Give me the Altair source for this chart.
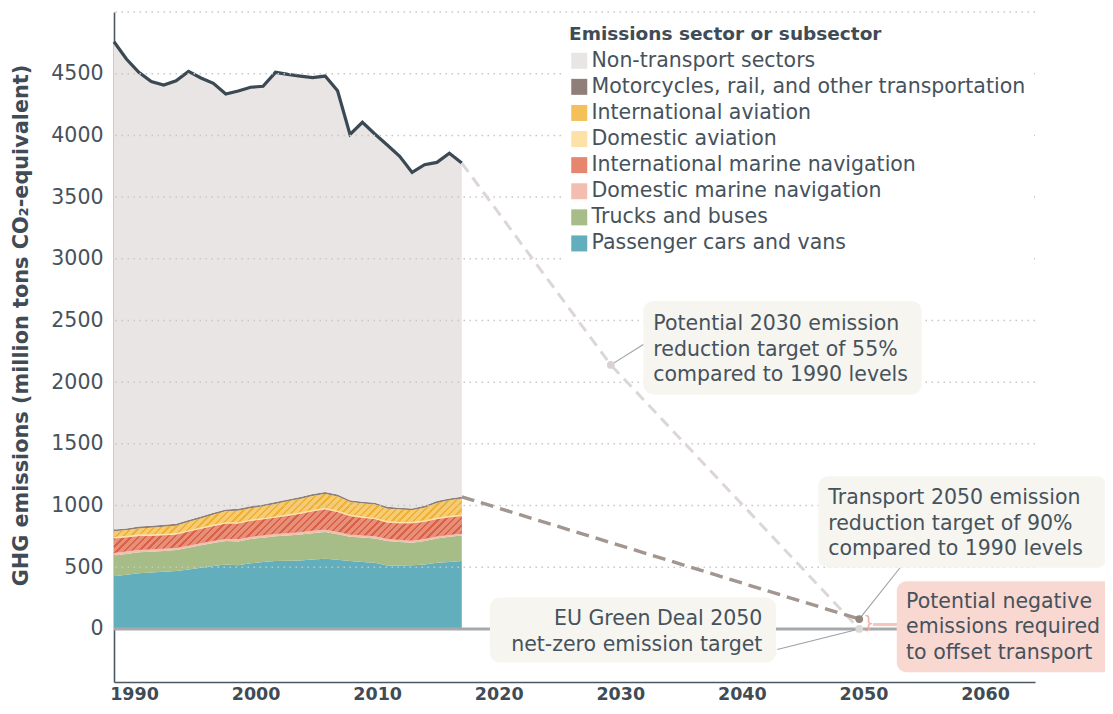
import altair as alt
import pandas as pd

# ---------------- data ----------------
years = list(range(1990, 2019))

total_ghg = [4759, 4619, 4511, 4436, 4408, 4443, 4519, 4465, 4422, 4335,
             4360, 4390, 4398, 4511, 4494, 4481, 4468, 4481, 4362, 4008,
             4106, 4011, 3922, 3830, 3700, 3762, 3781, 3855, 3776]

passenger_cars = [428, 440, 452, 458, 463, 469, 482, 496, 510, 523,
                  517, 533, 542, 550, 552, 555, 562, 569, 560, 550,
                  543, 536, 515, 515, 517, 523, 536, 543, 550]
trucks_buses = [168, 168, 170, 168, 168, 170, 176, 182, 186, 189,
                192, 196, 198, 202, 206, 210, 214, 216, 208, 197,
                198, 198, 197, 190, 182, 190, 198, 204, 208]
domestic_marine = [21, 21, 20, 20, 20, 19, 19, 19, 19, 19,
                   19, 19, 19, 19, 20, 20, 21, 21, 20, 19,
                   19, 19, 19, 18, 18, 17, 17, 16, 16]
international_marine = [114, 112, 110, 108, 107, 106, 110, 114, 118, 121,
                        124, 126, 128, 130, 138, 146, 154, 162, 158, 148,
                        140, 135, 129, 132, 138, 136, 138, 140, 140]
domestic_aviation = [16, 15, 15, 14, 14, 13, 13, 13, 13, 13,
                     13, 13, 13, 13, 14, 14, 14, 14, 14, 14,
                     14, 14, 14, 13, 13, 14, 14, 14, 14]
international_aviation = [44, 44, 48, 52, 56, 60, 66, 72, 80, 88,
                          93, 92, 93, 99, 104, 108, 112, 112, 114, 101,
                          102, 106, 101, 100, 94, 103, 118, 126, 128]
motorcycles_rail_other = [15, 15, 16, 16, 16, 16, 16, 16, 16, 16,
                          16, 16, 16, 16, 16, 16, 16, 16, 16, 15,
                          15, 15, 15, 15, 15, 15, 15, 15, 15]

sectors = ["Non-transport sectors",
           "Motorcycles, rail, and other transportation",
           "International aviation",
           "Domestic aviation",
           "International marine navigation",
           "Domestic marine navigation",
           "Trucks and buses",
           "Passenger cars and vans"]
legend_colors = ["#e8e5e4", "#8e7f78", "#f3c05a", "#fce2a6",
                 "#e6866e", "#f3bdb0", "#a6bd87", "#63aebd"]

# targets
target_2030_value = 2140      # 55 % below 1990
transport_2050_value = 80     # 90 % below 1990 transport
netzero_2050_value = 0

x_ticks = [1990, 2000, 2010, 2020, 2030, 2040, 2050, 2060]
y_ticks = [0, 500, 1000, 1500, 2000, 2500, 3000, 3500, 4000, 4500, 5000]

# ---------------- tables ----------------
transport_series = [passenger_cars, trucks_buses, domestic_marine,
                    international_marine, domestic_aviation,
                    international_aviation, motorcycles_rail_other]
transport_names = sectors[::-1][:7]
rows = []
for i, yr in enumerate(years):
    tsum = 0
    for k, (nm, s) in enumerate(zip(transport_names, transport_series)):
        rows.append({"year": yr, "sector": nm, "value": s[i], "order": k})
        tsum += s[i]
    rows.append({"year": yr, "sector": sectors[0],
                 "value": total_ghg[i] - tsum, "order": 7})
df = pd.DataFrame(rows)
total_df = pd.DataFrame({"year": years, "total": total_ghg})
transport_total_2018 = sum(s[-1] for s in transport_series)

proj_total = pd.DataFrame({"year": [2018, 2030, 2050],
                           "v": [total_ghg[-1], target_2030_value, netzero_2050_value]})
proj_transport = pd.DataFrame({"year": [2018, 2050],
                               "v": [transport_total_2018, transport_2050_value]})
dots = pd.DataFrame({"year": [2030, 2050, 2050],
                     "v": [target_2030_value, transport_2050_value, netzero_2050_value],
                     "c": ["#d8d3d0", "#958680", "#dcd8d6"]})
leaders = pd.DataFrame({"x": [2030, 2050, 2050],
                        "y": [target_2030_value, transport_2050_value, netzero_2050_value],
                        "x2": [2032.75, 2053.3, 2043.4],
                        "y2": [2314, 498, -166]})
boxes = pd.DataFrame({"x1": [2032.62, 2046.71, 2020.27, 2053.02],
                      "x2": [2055.03, 2069.93, 2043.3, 2072.0],
                      "y1": [2657, 1238, 255, 387],
                      "y2": [1901, 496, -272, -350],
                      "c": ["#f6f5f0", "#f6f5f0", "#f6f5f0", "#f8d8d1"]})
# y = position of the first text line
texts_left = pd.DataFrame({
    "x": [2033.42, 2047.5, 2053.77],
    "y": [2469, 1058, 220],
    "t": ["Potential 2030 emission\nreduction target of 55%\ncompared to 1990 levels",
          "Transport 2050 emission\nreduction target of 90%\ncompared to 1990 levels",
          "Potential negative\nemissions required\nto offset transport"]})
texts_right = pd.DataFrame({"x": [2042.2], "y": [80],
                            "t": ["EU Green Deal 2050\nnet-zero emission target"]})
bracket = pd.DataFrame({"x": [2050.75], "y": [40], "t": ["}"]})
pink_link = pd.DataFrame({"x": [2051.1], "x2": [2053.1], "y": [36]})
grid_df = pd.DataFrame({"v": y_ticks[1:]})
zero_df = pd.DataFrame({"v": [0]})
label_df = pd.DataFrame({"year": x_ticks})

# ---------------- geometry / style ----------------
W, H = 921, 670
X_DOM = [1990, 2064.15]
Y_DOM = [-430, 5000]
TXT = "#46525c"
AX = "#4b5862"
FONT = "DejaVu Sans"
FS = 20.5
px_year = W / (X_DOM[1] - X_DOM[0])
px_unit = H / (Y_DOM[1] - Y_DOM[0])

xs = alt.Scale(domain=X_DOM, nice=False, zero=False)
ys = alt.Scale(domain=Y_DOM, nice=False, zero=False)

base = alt.Chart(df).transform_stack(
    stack="value", groupby=["year"], as_=["y0", "y1"],
    sort=[alt.SortField("order", order="ascending")])

X = alt.X("year:Q", scale=xs,
          axis=alt.Axis(labels=False, ticks=False, grid=False, title=None,
                        domainColor=AX, domainWidth=1.6))
Y = alt.Y("y1:Q", scale=ys,
          axis=alt.Axis(values=y_ticks, format="d",
                        labelExpr="datum.value == 5000 ? '' : datum.label",
                        grid=False, ticks=False, domainColor=AX, domainWidth=1.6,
                        labelPadding=11, labelFontSize=FS, labelColor=TXT,
                        title="GHG emissions (million tons CO\u2082-equivalent)",
                        titleFontSize=20.8, titleFontWeight="bold", titleColor="#3f4b55",
                        titleX=-93, titleY=313, titleBaseline="middle",
                        titleAlign="center", titleAngle=270))

areas = base.mark_area(opacity=1).encode(
    x=X, y=Y, y2="y0:Q",
    color=alt.Color("sector:N",
                    scale=alt.Scale(domain=sectors, range=legend_colors),
                    legend=alt.Legend(orient="none", legendX=447, legendY=5,
                                      title="Emissions sector or subsector",
                                      titleFontSize=18.5, titleFontWeight="bold",
                                      titleColor="#3f4b55", titlePadding=7,
                                      titleLimit=0,
                                      labelFontSize=FS, labelColor=TXT,
                                      labelLimit=0, labelOffset=2,
                                      symbolType="square", symbolSize=256,
                                      symbolStrokeWidth=0, symbolOpacity=1,
                                      rowPadding=5.1, padding=8,
                                      fillColor="white")))


def cum(upto):
    return [sum(s[i] for s in transport_series[:upto]) for i in range(len(years))]


def hatch(name, idx, light, dark, period=7.3, frac=0.33):
    bottom, top = cum(idx), cum(idx + 1)
    bw = (years[-1] - years[0]) * px_year
    bh = (max(top) - min(bottom)) * px_unit
    r = bh / bw
    k = (bw + bh) / (bw * (1 + r * r))
    n = max(1, int(round((bw + bh) / period)))
    stops = []
    for i in range(n):
        a, b, c = i / n, (i + frac) / n, (i + 1) / n
        stops += [alt.GradientStop(color=dark, offset=a),
                  alt.GradientStop(color=dark, offset=b),
                  alt.GradientStop(color=light, offset=b),
                  alt.GradientStop(color=light, offset=c)]
    grad = alt.LinearGradient(gradient="linear", stops=stops,
                              x1=0, y1=0, x2=k, y2=k * r)
    return base.transform_filter(alt.datum.sector == name).mark_area(
        color=grad, opacity=1).encode(
        x=alt.X("year:Q", scale=xs), y=alt.Y("y1:Q", scale=ys), y2="y0:Q")


hatch_ia = hatch("International aviation", 5, "#f6cb72", "#efb133")
hatch_im = hatch("International marine navigation", 3, "#e88f78", "#d9614a")

line = alt.Chart(total_df).mark_line(color="#3a4953", strokeWidth=3.2).encode(
    x=alt.X("year:Q", scale=xs), y=alt.Y("total:Q", scale=ys))

grid = alt.Chart(grid_df).mark_rule(color="#c6c6c6", strokeDash=[1.5, 4.5],
                                    strokeWidth=1.5).encode(
    y=alt.Y("v:Q", scale=ys))
zero = alt.Chart(zero_df).mark_rule(color="#a6a9ac", strokeWidth=3).encode(
    y=alt.Y("v:Q", scale=ys))

dash_total = alt.Chart(proj_total).mark_line(
    color="#dcd7d5", strokeWidth=3, strokeDash=[11, 7]).encode(
    x=alt.X("year:Q", scale=xs), y=alt.Y("v:Q", scale=ys))
dash_transport = alt.Chart(proj_transport).mark_line(
    color="#a3958f", strokeWidth=3.4, strokeDash=[13, 7]).encode(
    x=alt.X("year:Q", scale=xs), y=alt.Y("v:Q", scale=ys))

leader = alt.Chart(leaders).mark_rule(color="#9aa1a7", strokeWidth=1.1).encode(
    x=alt.X("x:Q", scale=xs), x2="x2:Q", y=alt.Y("y:Q", scale=ys), y2="y2:Q")
dot = alt.Chart(dots).mark_circle(size=60, opacity=1).encode(
    x=alt.X("year:Q", scale=xs), y=alt.Y("v:Q", scale=ys),
    color=alt.Color("c:N", scale=None))

pink_rule = alt.Chart(pink_link).mark_rule(color="#f6c6bb", strokeWidth=3).encode(
    x=alt.X("x:Q", scale=xs), x2="x2:Q", y=alt.Y("y:Q", scale=ys))
brace = alt.Chart(bracket).mark_text(color="#f2b0a2", fontSize=17, font="DejaVu Sans",
                                     baseline="middle", align="center").encode(
    x=alt.X("x:Q", scale=xs), y=alt.Y("y:Q", scale=ys), text="t:N")

box = alt.Chart(boxes).mark_rect(cornerRadius=10).encode(
    x=alt.X("x1:Q", scale=xs), x2="x2:Q", y=alt.Y("y1:Q", scale=ys), y2="y2:Q",
    color=alt.Color("c:N", scale=None))

tl = alt.Chart(texts_left).mark_text(align="left", baseline="middle", lineBreak="\n",
                                     lineHeight=25.5, fontSize=FS, color=TXT).encode(
    x=alt.X("x:Q", scale=xs), y=alt.Y("y:Q", scale=ys), text="t:N")
tr = alt.Chart(texts_right).mark_text(align="right", baseline="middle", lineBreak="\n",
                                      lineHeight=25.5, fontSize=FS, color=TXT).encode(
    x=alt.X("x:Q", scale=xs), y=alt.Y("y:Q", scale=ys), text="t:N")

main = alt.layer(areas, hatch_ia, hatch_im, line, grid, zero, dash_total,
                 dash_transport, leader, pink_rule, brace, dot, box, tl, tr)

labels_layer = alt.Chart(label_df).mark_point(opacity=0).encode(
    x=alt.X("year:Q",
            scale=alt.Scale(domain=[1988.355, 2064.11], nice=False, zero=False),
            axis=alt.Axis(orient="bottom", values=x_ticks, format="d",
                          labelFontSize=17.5, labelFontWeight="bold",
                          labelColor="#3f4b55", ticks=False, domain=False,
                          grid=False, title=None, labelPadding=3,
                          labelFlush=False, labelOverlap=False)))

chart = alt.layer(main, labels_layer).resolve_scale(x="independent").properties(
    width=W, height=H,
    autosize=alt.AutoSizeParams(type="none"),
    padding={"left": 106, "top": 4, "right": 70, "bottom": 24},
).configure(font=FONT).configure_view(stroke=None)

chart.save("out.html", embed_options={"renderer": "svg", "actions": False})
